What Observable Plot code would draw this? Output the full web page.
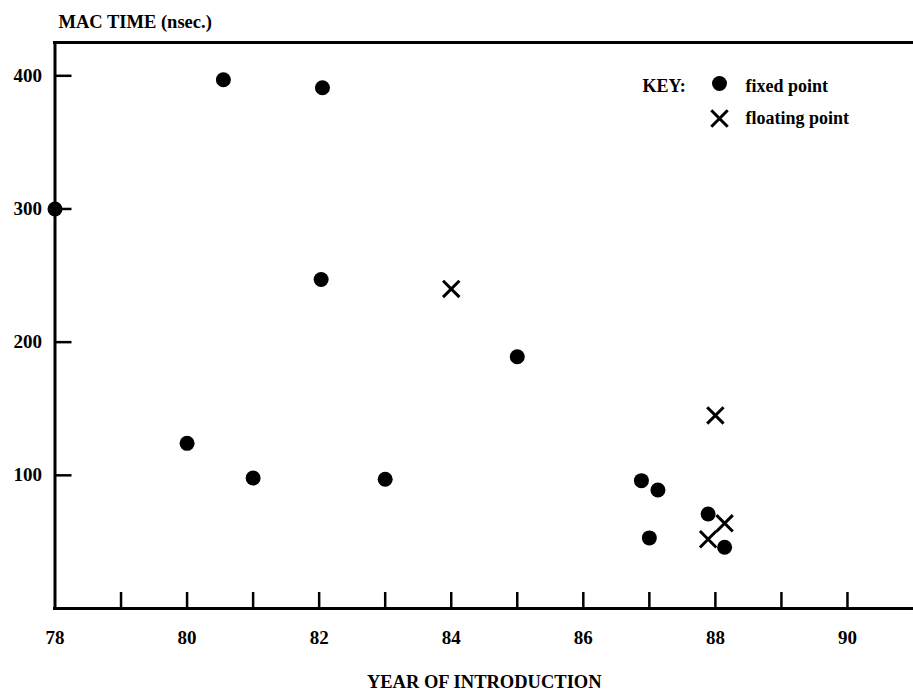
<!DOCTYPE html>
<html>
<head>
<meta charset="utf-8">
<script src="https://cdn.jsdelivr.net/npm/d3@7"></script>
<script src="https://cdn.jsdelivr.net/npm/@observablehq/plot@0.6"></script>
<style>
  body { margin: 0; background: #fff; }
</style>
</head>
<body>
<div id="chart"></div>
<script>
// Fixed-point DSP chips: year of introduction and MAC time (nsec)
const fixedYear = [78, 80.55, 82.05, 82.03, 80.0, 81.0, 83.0, 85.0, 86.88, 87.13, 87.0, 87.89, 88.14];
const fixedMac  = [300, 397, 391, 247, 124, 98, 97, 189, 96, 89, 53, 71, 46];
// Floating-point DSP chips
const floatYear = [84.0, 88.0, 88.14, 87.89];
const floatMac  = [240, 145, 64, 52];

const xTickYears  = [79, 80, 81, 82, 83, 84, 85, 86, 87, 88, 89, 90];
const xLabelYears = [78, 80, 82, 84, 86, 88, 90];
const yTickValues = [100, 200, 300, 400];

const yTitle = "MAC TIME (nsec.)";
const xTitle = "YEAR OF INTRODUCTION";
const keyLabel = "KEY:";
const fixedLabel = "fixed point";
const floatLabel = "floating point";

const xDomain = [78, 91];
const yDomain = [0, 425];

const fixed = fixedYear.map((x, i) => ({x, y: fixedMac[i]}));
const floating = floatYear.map((x, i) => ({x, y: floatMac[i]}));

const W = 913;

const chart = Plot.plot({
  width: W,
  height: 692,
  marginLeft: 54.5,
  marginRight: 0,
  marginTop: 42,
  marginBottom: 84,
  style: {
    fontFamily: "'Liberation Serif', 'Times New Roman', serif",
    fontWeight: "bold",
    fontSize: "18px",
    color: "#000",
    background: "#fff"
  },
  x: {domain: xDomain, axis: null},
  y: {domain: yDomain, axis: null},
  marks: [
    // inward tick marks
    Plot.axisX(xTickYears, {tickSize: -16, tickFormat: () => "", strokeWidth: 2.5, label: null}),
    Plot.axisX(xLabelYears, {tickSize: 0, tickPadding: 22, tickFormat: d => String(d), label: null, fill: "#000", fontSize: 19}),
    Plot.axisY(yTickValues, {tickSize: -17, tickFormat: () => "", strokeWidth: 2.5, label: null}),
    Plot.axisY(yTickValues, {tickSize: 0, tickPadding: 13, tickFormat: d => String(d), label: null, fill: "#000", fontSize: 19}),
    // frame lines (left, bottom, top)
    Plot.ruleX([xDomain[0]], {stroke: "#000", strokeWidth: 3}),
    Plot.ruleY([yDomain[0], yDomain[1]], {stroke: "#000", strokeWidth: 3, strokeLinecap: "square"}),
    // data
    Plot.dot(fixed, {x: "x", y: "y", r: 7.5, symbol: "circle", fill: "#000", stroke: null}),
    Plot.dot(floating, {x: "x", y: "y", r: 7.5, symbol: "times", stroke: "#000", strokeWidth: 3}),
    // titles
    Plot.text([yTitle], {frameAnchor: "top-left", dx: 3.5, dy: -20.5, textAnchor: "start", lineAnchor: "middle", fill: "#000", fontSize: 18.5}),
    Plot.text([xTitle], {frameAnchor: "bottom", dy: 74, lineAnchor: "middle", fill: "#000", fontSize: 18.5}),
    // key
    Plot.text([keyLabel], {frameAnchor: "top-right", dx: -(W - 642), dy: 86 - 42, textAnchor: "start", lineAnchor: "middle", fill: "#000"}),
    Plot.dot([fixedLabel], {frameAnchor: "top-right", dx: -(W - 719), dy: 83 - 42, r: 7.5, symbol: "circle", fill: "#000", stroke: null}),
    Plot.text([fixedLabel], {frameAnchor: "top-right", dx: -(W - 745), dy: 86 - 42, textAnchor: "start", lineAnchor: "middle", fill: "#000"}),
    Plot.dot([floatLabel], {frameAnchor: "top-right", dx: -(W - 719), dy: 118 - 42, r: 7.5, symbol: "times", stroke: "#000", strokeWidth: 3}),
    Plot.text([floatLabel], {frameAnchor: "top-right", dx: -(W - 745), dy: 118 - 42, textAnchor: "start", lineAnchor: "middle", fill: "#000"})
  ]
});

document.getElementById("chart").appendChild(chart);
</script>
</body>
</html>
